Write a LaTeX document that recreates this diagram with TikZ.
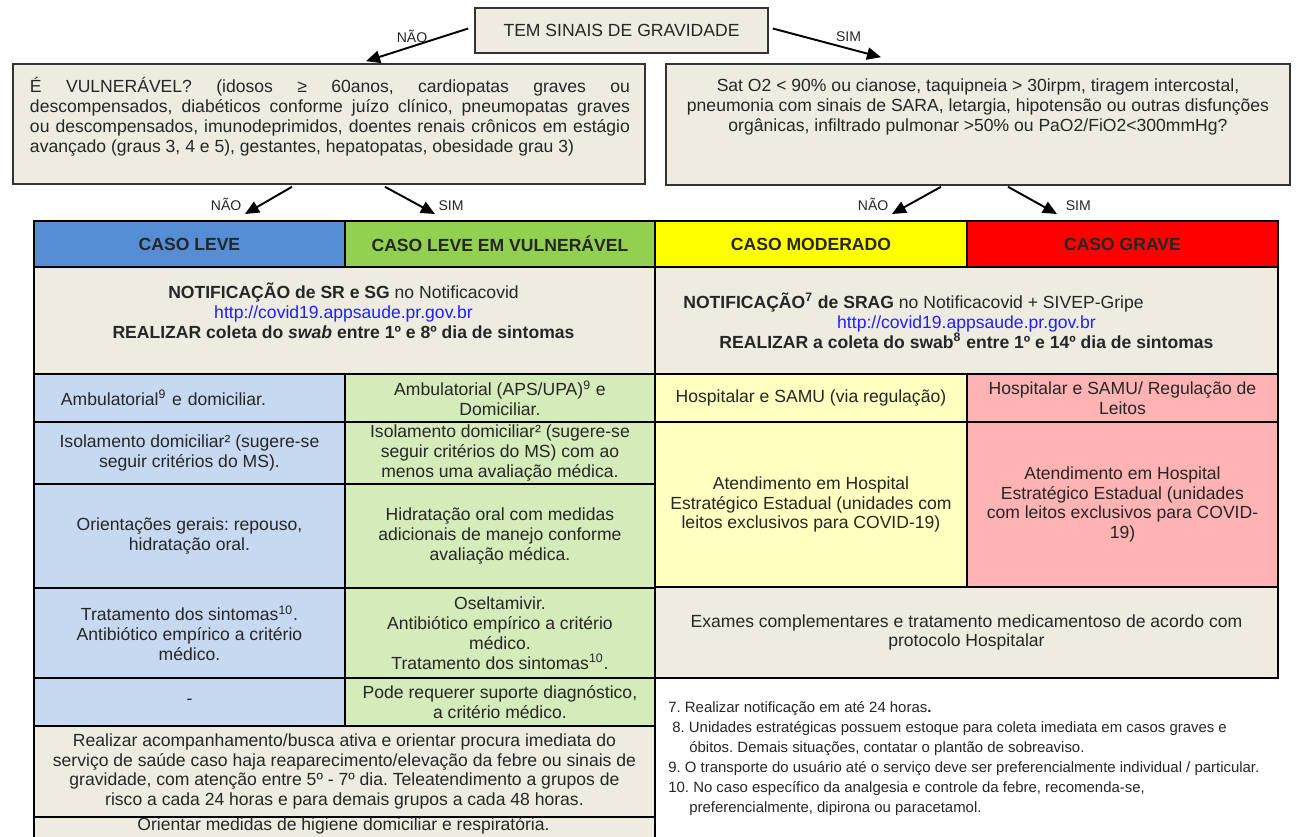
\documentclass[tikz,border=0pt]{standalone}
\usepackage{fontspec}
\setmainfont{Liberation Sans}
\usetikzlibrary{positioning, arrows.meta, calc}
\frenchspacing

\newdimen\unidade
\unidade=0.02cm

\definecolor{bege}{HTML}{EEECE1}
\definecolor{azulForte}{HTML}{558ED5}
\definecolor{verdeForte}{HTML}{92D050}
\definecolor{amareloForte}{HTML}{FFFF00}
\definecolor{vermelhoForte}{HTML}{FF0000}
\definecolor{azulClaro}{HTML}{C6D9F1}
\definecolor{verdeClaro}{HTML}{D4EBBA}
\definecolor{amareloClaro}{HTML}{FFFFC0}
\definecolor{rosa}{HTML}{FFB3B3}
\definecolor{link}{HTML}{1F1FFF}

\begin{document}
\begin{tikzpicture}
    [x=\unidade, y=-\unidade,
     every node/.style={font=\fontsize{10}{11.34}\selectfont, text=black!85},
     caixa/.style={draw=black!80, line width=0.9pt, fill=bege, inner sep=0pt},
     celula/.style={draw=black, line width=1.1pt, anchor=north west, inner sep=0pt, align=center},
     rotulo/.style={font=\fontsize{8}{9}\selectfont, inner sep=1.5pt},
     seta/.style={-{Triangle[length=8pt, width=7pt]}, line width=1.1pt},
     nota/.style={font=\fontsize{8.5}{11.4}\selectfont, align=left, anchor=north west, inner sep=0pt}]
    \clip (0,0) rectangle (1296,836);

    % perguntas
    \node[caixa, minimum width=293\unidade, minimum height=45\unidade] (gravidade) at (621.5,30.5) {TEM SINAIS DE GRAVIDADE};
    \node[caixa, minimum width=632\unidade, minimum height=120\unidade] (vulneravel) at (329,124) {};
    \node[caixa, minimum width=624\unidade, minimum height=121\unidade] (sinais) at (978,124.5) {};
    \node[align=left, inner sep=0pt] (vulneravelTxt) at (330,117)
        {\makebox[600\unidade][s]{É VULNERÁVEL? (idosos ≥ 60anos, cardiopatas graves ou}\\
         \makebox[600\unidade][s]{descompensados, diabéticos conforme juízo clínico, pneumopatas graves}\\
         \makebox[600\unidade][s]{ou descompensados, imunodeprimidos, doentes renais crônicos em estágio}\\
         avançado (graus 3, 4 e 5), gestantes, hepatopatas, obesidade grau 3)};
    \node[align=center, inner sep=0pt] (sinaisTxt) at (978,107)
        {Sat O2 < 90\% ou cianose, taquipneia > 30irpm, tiragem intercostal,\\
         pneumonia com sinais de SARA, letargia, hipotensão ou outras disfunções\\
         orgânicas, infiltrado pulmonar >50\% ou PaO2/FiO2<300mmHg?};

    % cabecalho
    \node[celula, fill=azulForte, minimum width=311\unidade, minimum height=46\unidade] (hLeve) at (33,220) {\textbf{CASO LEVE}};
    \node[celula, fill=verdeForte, minimum width=310\unidade, minimum height=46\unidade] (hLeveVul) at (344,220) {\textbf{CASO LEVE EM VULNERÁVEL}};
    \node[celula, fill=amareloForte, minimum width=312\unidade, minimum height=46\unidade] (hModerado) at (654,220) {\textbf{CASO MODERADO}};
    \node[celula, fill=vermelhoForte, minimum width=311\unidade, minimum height=46\unidade] (hGrave) at (966,220) {\textbf{CASO GRAVE}};

    % setas
    \draw[seta] ($(gravidade.west)+(-6,-2)$) -- node[rotulo, pos=0.55, above] (naoTopo) {NÃO} ($(vulneravel.north)+(37,-2)$);
    \draw[seta] ($(gravidade.east)+(4,-2)$) -- node[rotulo, pos=0.7, above=2pt] (simTopo) {SIM} ($(sinais.north)+(-97,-6)$);
    \draw[seta] ($(vulneravel.south)+(-37,2)$) -- ($(hLeve.north)+(55.5,-6)$) node[rotulo, above left] (naoLeve) {NÃO};
    \draw[seta] ($(vulneravel.south)+(56,2)$) -- ($(hLeveVul.north)+(-65,-6)$) node[rotulo, above right] (simLeve) {SIM};
    \draw[seta] ($(sinais.south)+(-37,1)$) -- ($(hModerado.north)+(81,-6)$) node[rotulo, above left] (naoGrave) {NÃO};
    \draw[seta] ($(sinais.south)+(30,1)$) -- ($(hGrave.north)+(-65.5,-6)$) node[rotulo, above right, xshift=3pt] (simGrave) {SIM};

    % notificacao
    \node[celula, fill=bege, minimum width=621\unidade, minimum height=107\unidade] (notifSG) at (33,266) {};
    \node[align=center, inner sep=0pt] (notifSGtxt) at (343.5,311)
        {\textbf{NOTIFICAÇÃO de SR e SG} no Notificacovid\\
         {\color{link}http://covid19.appsaude.pr.gov.br}\\
         \textbf{REALIZAR coleta do \textit{swab} entre 1º e 8º dia de sintomas}};
    \node[celula, fill=bege, minimum width=623\unidade, minimum height=107\unidade] (notifSRAG) at (654,266)
        {\textbf{NOTIFICAÇÃO\textsuperscript{7} de SRAG} no Notificacovid + SIVEP-Gripe\hspace*{106\unidade}\\
         {\color{link}http://covid19.appsaude.pr.gov.br}\\
         \textbf{REALIZAR a coleta do swab\textsuperscript{8} entre 1º e 14º dia de sintomas}};

    % atendimento
    \node[celula, fill=azulClaro, minimum width=311\unidade, minimum height=48\unidade, text width=257\unidade, inner xsep=27\unidade, align=left] (ambLeve) at (33,373)
        {Ambulatorial\textsuperscript{9} e domiciliar.};
    \node[celula, fill=verdeClaro, minimum width=310\unidade, minimum height=48\unidade] (ambVul) at (344,373)
        {Ambulatorial (APS/UPA)\textsuperscript{9} e\\ Domiciliar.};
    \node[celula, fill=amareloClaro, minimum width=312\unidade, minimum height=48\unidade] (hospMod) at (654,373)
        {Hospitalar e SAMU (via regulação)};
    \node[celula, fill=rosa, minimum width=311\unidade, minimum height=48\unidade] (hospGrave) at (966,373)
        {Hospitalar e SAMU/ Regulação de\\ Leitos};

    \node[celula, fill=azulClaro, minimum width=311\unidade, minimum height=62\unidade] (isoLeve) at (33,421)
        {Isolamento domiciliar² (sugere-se\\ seguir critérios do MS).};
    \node[celula, fill=verdeClaro, minimum width=310\unidade, minimum height=62\unidade] (isoVul) at (344,421)
        {Isolamento domiciliar² (sugere-se\\ seguir critérios do MS) com ao\\ menos uma avaliação médica.};
    \node[celula, fill=amareloClaro, minimum width=312\unidade, minimum height=165\unidade] (atendMod) at (654,421)
        {Atendimento em Hospital\\ Estratégico Estadual (unidades com\\ leitos exclusivos para COVID-19)};
    \node[celula, fill=rosa, minimum width=311\unidade, minimum height=165\unidade] (atendGrave) at (966,421)
        {Atendimento em Hospital\\ Estratégico Estadual (unidades\\ com leitos exclusivos para COVID-\\ 19)};

    \node[celula, fill=azulClaro, minimum width=311\unidade, minimum height=104\unidade] (orientLeve) at (33,483)
        {Orientações gerais: repouso,\\ hidratação oral.};
    \node[celula, fill=verdeClaro, minimum width=310\unidade, minimum height=104\unidade] (hidratVul) at (344,483)
        {Hidratação oral com medidas\\ adicionais de manejo conforme\\ avaliação médica.};

    \node[celula, fill=azulClaro, minimum width=311\unidade, minimum height=90\unidade] (tratLeve) at (33,587)
        {Tratamento dos sintomas\textsuperscript{10}.\\ Antibiótico empírico a critério\\ médico.};
    \node[celula, fill=verdeClaro, minimum width=310\unidade, minimum height=90\unidade] (oselVul) at (344,587)
        {Oseltamivir.\\ Antibiótico empírico a critério\\ médico.\\ Tratamento dos sintomas\textsuperscript{10}.};
    \node[celula, fill=bege, minimum width=623\unidade, minimum height=91\unidade] (exames) at (654,586)
        {Exames complementares e tratamento medicamentoso de acordo com\\ protocolo Hospitalar};

    \node[celula, fill=azulClaro, minimum width=311\unidade, minimum height=48\unidade] (tracoLeve) at (33,677) {-};
    \node[celula, fill=verdeClaro, minimum width=310\unidade, minimum height=48\unidade] (suporteVul) at (344,677)
        {Pode requerer suporte diagnóstico,\\ a critério médico.};

    % acompanhamento
    \node[celula, fill=bege, minimum width=621\unidade, minimum height=91\unidade] (acompanha) at (33,725)
        {Realizar acompanhamento/busca ativa e orientar procura imediata do\\
         serviço de saúde caso haja reaparecimento/elevação da febre ou sinais de\\
         gravidade, com atenção entre 5º - 7º dia. Teleatendimento a grupos de\\
         risco a cada 24 horas e para demais grupos a cada 48 horas.};
    \node[celula, fill=bege, minimum width=621\unidade, minimum height=40\unidade] (higiene) at (33,816) {};
    \node[inner sep=0pt] (higieneTxt) at (343.5,826) {Orientar medidas de higiene domiciliar e respiratória.};

    % notas
    \node[nota] (notas) at (668,701)
        {7. Realizar notificação em até 24 horas\textbf{.}\\
         \hspace*{4\unidade}8. Unidades estratégicas possuem estoque para coleta imediata em casos graves e\\
         \hspace*{21\unidade}óbitos. Demais situações, contatar o plantão de sobreaviso.\\
         9. O transporte do usuário até o serviço deve ser preferencialmente individual / particular.\\
         10. No caso específico da analgesia e controle da febre, recomenda-se,\\
         \hspace*{21\unidade}preferencialmente, dipirona ou paracetamol.};
\end{tikzpicture}
\end{document}
